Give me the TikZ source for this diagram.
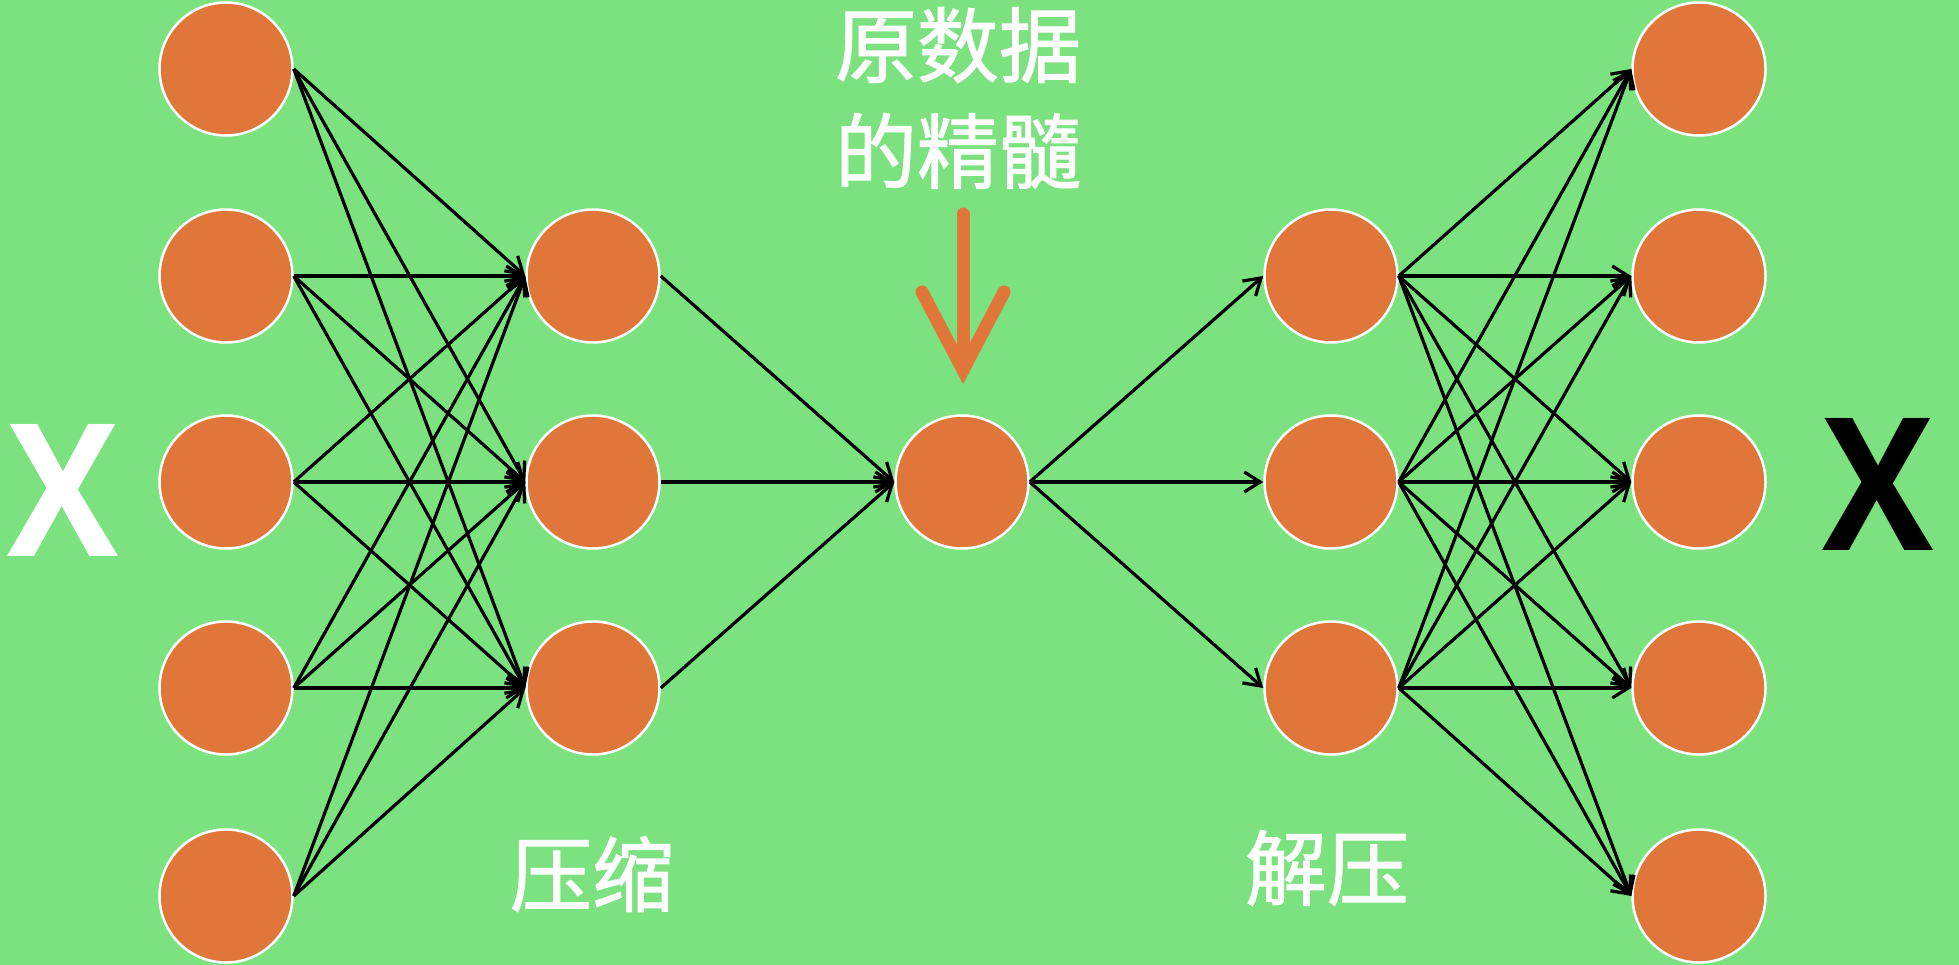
\documentclass[tikz,border=0pt]{standalone}
\usepackage{fontspec}
\newfontfamily\cjk{Noto Sans CJK SC}[FakeBold=1.2]
\newfontfamily\xfont{Open Sans}
\usetikzlibrary{arrows.meta}
\definecolor{bg}{RGB}{124,226,128}
\definecolor{neuronc}{RGB}{224,118,58}
\begin{document}
\begin{tikzpicture}[x=1pt,y=-1pt,
  neuron/.style={circle, fill=neuronc, draw=white, line width=2.5pt, minimum size=133pt, inner sep=0pt},
  conn/.style={line width=3.2pt, -{Straight Barb[length=16pt,width=20pt,line width=3.2pt]}},
  lbl/.style={text=white, font=\cjk\fontsize{82}{106}\selectfont, align=center, inner sep=0pt},
  bigx/.style={font=\xfont\bfseries\fontsize{185}{185}\selectfont, inner sep=0pt, xscale=0.9}]
\fill[bg] (0,0) rectangle (1959,965);
\useasboundingbox (0,0) rectangle (1959,965);
% neurons
\foreach \i/\y in {1/69,2/276,3/482,4/688,5/896} \node[neuron] (a\i) at (226,\y) {};
\foreach \i/\y in {1/276,2/482,3/688} \node[neuron] (b\i) at (593,\y) {};
\node[neuron] (m) at (962,482) {};
\foreach \i/\y in {1/276,2/482,3/688} \node[neuron] (c\i) at (1331,\y) {};
\foreach \i/\y in {1/69,2/276,3/482,4/688,5/896} \node[neuron] (d\i) at (1699,\y) {};
% connections
\foreach \i in {1,...,5} \foreach \j in {1,2,3} \draw[conn] (a\i.east) -- (b\j.west);
\foreach \j in {1,2,3} \draw[conn] (b\j.east) -- (m.west);
\foreach \j in {1,2,3} \draw[conn] (m.east) -- (c\j.west);
\foreach \j in {1,2,3} \foreach \i in {1,...,5} \draw[conn] (c\j.east) -- (d\i.west);
% labels
\node[lbl] (essence) at (958,98) {原数据\\的精髓};
\coordinate (atop) at (963,214);
\coordinate (atip) at (963,370);
\coordinate (wl) at (922,292);
\coordinate (wr) at (1004,292);
\draw[neuronc, line width=13pt, line cap=round, line join=round] (atop) -- (atip);
\draw[neuronc, line width=13pt, line cap=round, line join=miter] (wl) -- (atip) -- (wr);
\node[bigx, text=white] (xin) at (63,490) {X};
\node[bigx, text=black] (xout) at (1878,484) {X};
\node[lbl] (enc) at (592,874) {压缩};
\node[lbl] (dec) at (1327,868) {解压};
\end{tikzpicture}
\end{document}
